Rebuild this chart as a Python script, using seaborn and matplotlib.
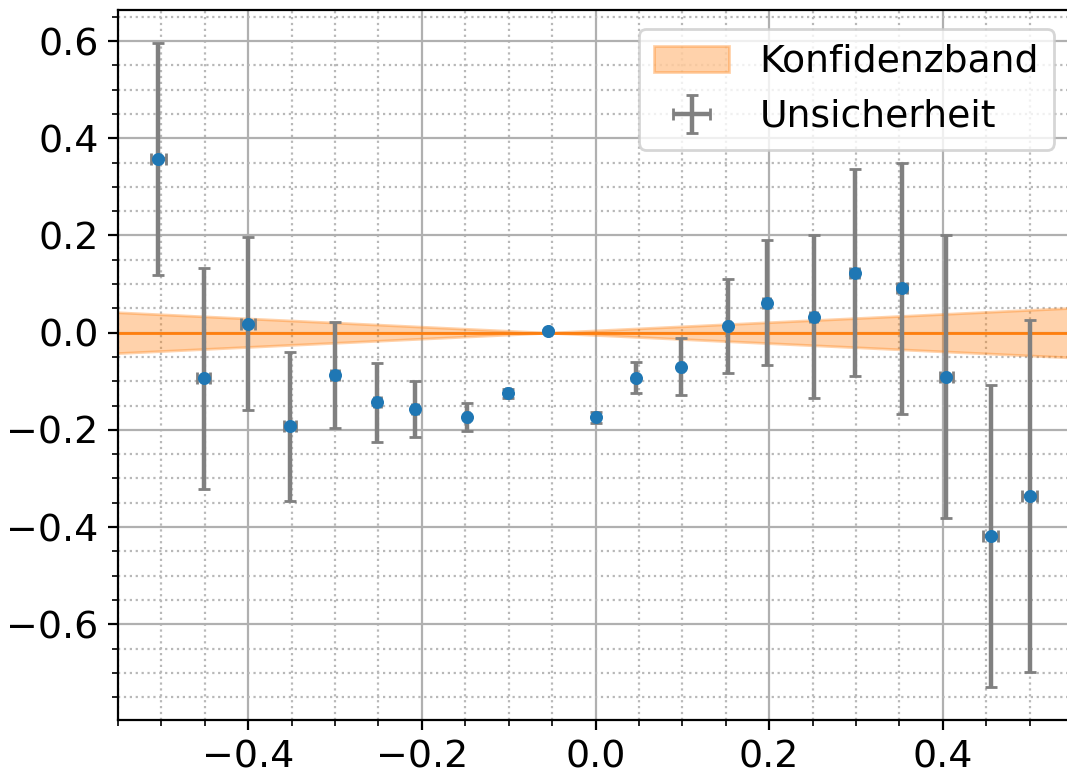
import matplotlib
matplotlib.use("Agg")
import matplotlib.pyplot as plt
from matplotlib.ticker import MultipleLocator
import numpy as np
import pandas as pd
import seaborn as sns

# --- data ---
x_vals = [-0.5035, -0.4515, -0.400, -0.352, -0.300, -0.2515, -0.2084, -0.1483,
          -0.1008, -0.0542, 0.000, 0.0472, 0.099, 0.1527, 0.197, 0.2512,
          0.2984, 0.3529, 0.4042, 0.4554, 0.500]
y_vals = [0.358, -0.094, 0.018, -0.193, -0.088, -0.143, -0.157, -0.174,
          -0.125, 0.003, -0.174, -0.093, -0.070, 0.014, 0.062, 0.033,
          0.1235, 0.091, -0.0906, -0.418, -0.336]
y_err = [0.239, 0.228, 0.178, 0.154, 0.109, 0.081, 0.057, 0.029,
         0.010, 0.002, 0.011, 0.032, 0.059, 0.096, 0.129, 0.168,
         0.213, 0.258, 0.291, 0.311, 0.363]
x_err = [0.0087, 0.008, 0.008, 0.007, 0.005, 0.004, 0.0035, 0.0025,
         0.002, 0.001, 0.001, 0.001, 0.002, 0.0025, 0.0035, 0.0045,
         0.005, 0.006, 0.0075, 0.0085, 0.009]

band_x = [-0.56, -0.055, 0.56]
band_upper = [0.0428, 0.0, 0.0520]
band_lower = [-0.0428, 0.0, -0.0520]

zero_x = [-0.56, 0.56]
zero_y = [0.0, 0.0]

band_label = "Konfidenzband"
err_label = "Unsicherheit"

df = pd.DataFrame({"x": x_vals, "y": y_vals})
line_df = pd.DataFrame({"x": zero_x, "y": zero_y})

sns.set_style("ticks")
plt.rcParams["font.family"] = ["DejaVu Sans"]
plt.rcParams["font.size"] = 13.6
for k in ["text.color", "axes.labelcolor", "xtick.color", "ytick.color", "axes.edgecolor"]:
    plt.rcParams[k] = "black"

fig = plt.figure(figsize=(1067 / 200, 776 / 200), dpi=200)
ax = fig.add_axes([118 / 1067, 56 / 776, (1073 - 118) / 1067, (720 - 10) / 776])

ax.fill_between(band_x, band_lower, band_upper, color="tab:orange", alpha=0.35,
                label=band_label, zorder=1)
sns.lineplot(data=line_df, x="x", y="y", ax=ax, color="tab:orange", linewidth=1.0,
             zorder=2, legend=False)
ax.errorbar(x_vals, y_vals, yerr=y_err, xerr=x_err, fmt="none", ecolor="gray",
            elinewidth=1.6, capsize=2.2, capthick=1.0, label=err_label, zorder=3)
sns.scatterplot(data=df, x="x", y="y", ax=ax, color="#1f77b4", s=22, linewidth=0,
                zorder=4, legend=False)

ax.set_xlim(-0.55, 0.55)
ax.set_ylim(-0.797, 0.664)
ax.xaxis.set_major_locator(MultipleLocator(0.2))
ax.xaxis.set_minor_locator(MultipleLocator(0.05))
ax.yaxis.set_major_locator(MultipleLocator(0.2))
ax.yaxis.set_minor_locator(MultipleLocator(0.05))
ax.set_xlabel("")
ax.set_ylabel("")

for s in ax.spines.values():
    s.set_visible(True)
    s.set_color("black")
    s.set_linewidth(0.8)
ax.tick_params(which="major", length=3.5, width=0.8, labelsize=13.7,
               color="black", labelcolor="black")
ax.tick_params(which="minor", length=2, width=0.6, color="black")

ax.grid(which="major", color="#b0b0b0", linewidth=0.8, linestyle="-")
ax.grid(which="minor", color="#b8b8b8", linewidth=0.8, linestyle=":")
ax.set_axisbelow(True)

handles, labels = ax.get_legend_handles_labels()
order = [labels.index(band_label), labels.index(err_label)]
leg = ax.legend([handles[i] for i in order], [labels[i] for i in order],
                loc="upper right", fontsize=13.6, framealpha=0.8)
for t in leg.get_texts():
    t.set_color("black")

fig.savefig("out.png", dpi=200)
